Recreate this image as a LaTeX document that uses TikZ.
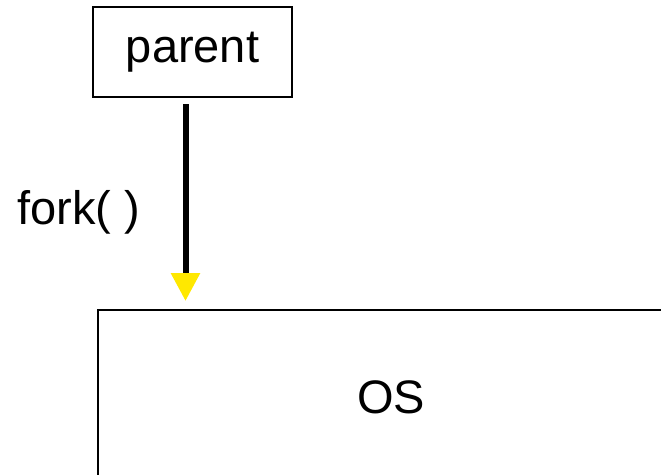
\documentclass[tikz,border=0pt]{standalone}
\usepackage{fontspec}
\setmainfont{Liberation Sans}
\usetikzlibrary{arrows.meta}
\definecolor{forkyellow}{RGB}{255,232,0}

\begin{document}
\begin{tikzpicture}[x=1pt,y=-1pt,
	bigtext/.style={font=\fontsize{47}{51}\selectfont},
	procbox/.style={draw, line width=1.5pt, minimum width=199pt, minimum height=90pt, inner sep=0pt, bigtext},
	forkline/.style={line width=6pt, -{Triangle[length=28pt,width=28pt,color=forkyellow]}}]
		%%%%% START %%%%%
		\useasboundingbox (0, 0) rectangle (661, 474);
		
		\node[procbox] (parent) at (192.5, 52) {parent};
		
		\coordinate (forkstart) at (185.5, 104);
		\coordinate (forktip) at (185.5, 301);
		\draw[forkline] (forkstart) -- (forktip);
		\node[bigtext] (forklabel) at (79, 212) {fork( )};
		
		\coordinate (osright) at (662, 310);
		\coordinate (oscorner) at (98, 310);
		\coordinate (osbottom) at (98, 475);
		\draw[line width=2pt] (osright) -- (oscorner) -- (osbottom);
		\node[bigtext] (os) at (391, 397) {OS};
		%%%%% END %%%%%
	\end{tikzpicture}
\end{document}
